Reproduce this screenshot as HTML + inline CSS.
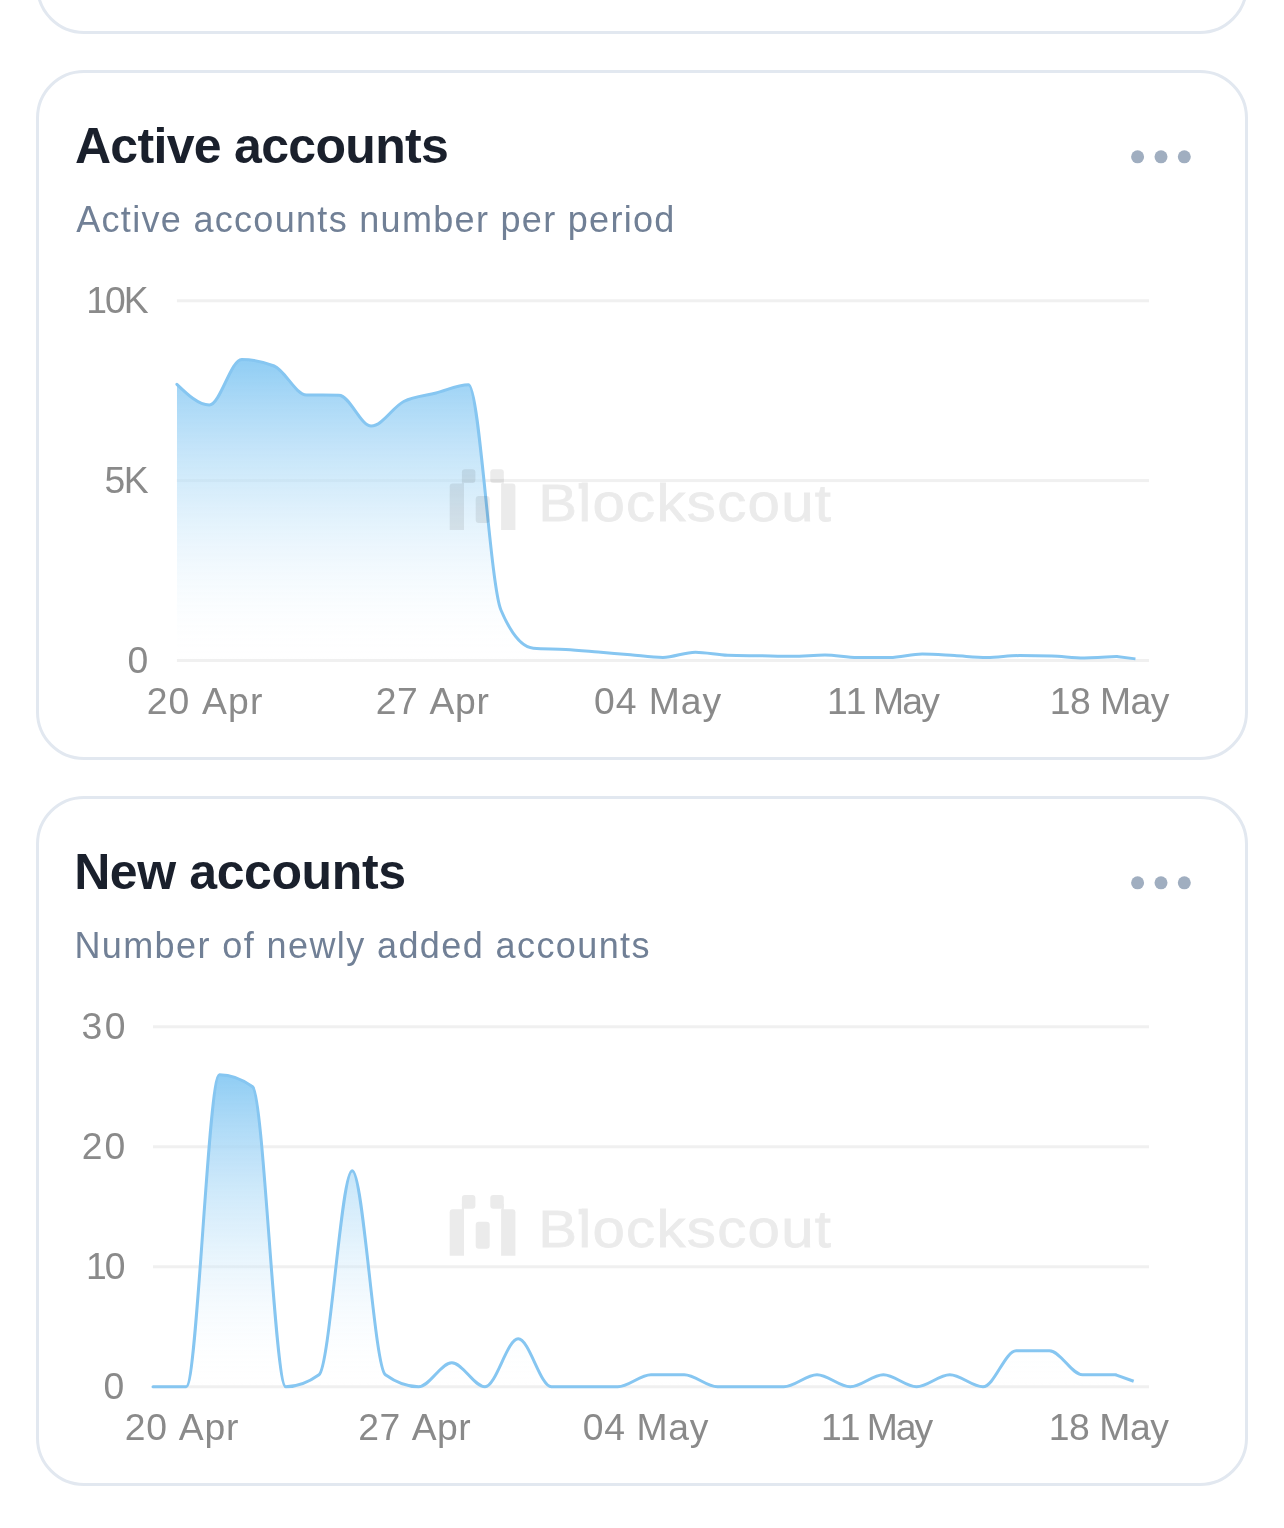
<!DOCTYPE html>
<html><head><meta charset="utf-8"><title>Charts</title>
<style>
html,body{margin:0;padding:0;background:#FFFFFF;}
body{width:1284px;height:1528px;position:relative;overflow:hidden;font-family:"Liberation Sans", sans-serif;}
.card{position:absolute;left:36px;width:1212px;height:690px;box-sizing:border-box;border:3px solid #E2E8F0;border-radius:48px;background:#FFFFFF;}
svg{position:absolute;left:0;top:0;will-change:transform;}
text{font-family:"Liberation Sans", sans-serif;font-kerning:none;font-feature-settings:"kern" 0;}
.title{font-weight:700;font-size:50px;fill:#1A202C;}
.sub{font-size:36px;fill:#718096;}
.ax{font-size:37.3px;fill:#8A8A8A;}
.wm{font-weight:400;font-size:52px;}
</style></head>
<body>
<div class="card" style="top:-656px"></div><div class="card" style="top:70px"></div><div class="card" style="top:796px"></div>
<svg width="1284" height="1528" viewBox="0 0 1284 1528">
<text x="74.95" y="162.60" class="title" style="letter-spacing:-0.689px">Active accounts</text><text x="76.20" y="231.80" class="sub" style="letter-spacing:1.309px">Active accounts number per period</text><circle cx="1137.6" cy="156.8" r="6.5" fill="#A0AEC0"/><circle cx="1161.0" cy="156.8" r="6.5" fill="#A0AEC0"/><circle cx="1184.3" cy="156.8" r="6.5" fill="#A0AEC0"/><rect x="176.9" y="299.3" width="972.1" height="3" fill="#F0F0F0"/><rect x="176.9" y="479.1" width="972.1" height="3" fill="#F0F0F0"/><rect x="176.9" y="659.0" width="972.1" height="3" fill="#F0F0F0"/><text x="86.15" y="312.80" class="ax" style="letter-spacing:-1.950px">10K</text><text x="104.50" y="492.60" class="ax" style="letter-spacing:-1.500px">5K</text><text x="127.40" y="672.50" class="ax" style="letter-spacing:0.000px">0</text><text x="146.65" y="713.50" class="ax" style="letter-spacing:1.170px">20 Apr</text><text x="375.65" y="713.50" class="ax" style="letter-spacing:0.670px">27 Apr</text><text x="594.10" y="713.50" class="ax" style="letter-spacing:0.940px">04 May</text><text x="826.95" y="713.50" class="ax" style="letter-spacing:-1.890px">11 May</text><text x="1049.65" y="713.50" class="ax" style="letter-spacing:-0.490px">18 May</text><defs><linearGradient id="g1" x1="0" y1="359.5" x2="0" y2="660.5" gradientUnits="userSpaceOnUse"><stop offset="0.00" stop-color="rgb(144,205,244)" stop-opacity="1.0000"/><stop offset="0.05" stop-color="rgb(148,207,244)" stop-opacity="0.9500"/><stop offset="0.10" stop-color="rgb(153,209,245)" stop-opacity="0.9000"/><stop offset="0.15" stop-color="rgb(158,211,245)" stop-opacity="0.8500"/><stop offset="0.20" stop-color="rgb(162,213,246)" stop-opacity="0.8000"/><stop offset="0.25" stop-color="rgb(167,215,246)" stop-opacity="0.7500"/><stop offset="0.30" stop-color="rgb(172,217,247)" stop-opacity="0.7000"/><stop offset="0.35" stop-color="rgb(176,220,247)" stop-opacity="0.6500"/><stop offset="0.40" stop-color="rgb(181,222,248)" stop-opacity="0.6000"/><stop offset="0.45" stop-color="rgb(186,224,248)" stop-opacity="0.5500"/><stop offset="0.50" stop-color="rgb(191,226,249)" stop-opacity="0.5000"/><stop offset="0.55" stop-color="rgb(196,229,249)" stop-opacity="0.4500"/><stop offset="0.60" stop-color="rgb(202,231,250)" stop-opacity="0.4000"/><stop offset="0.65" stop-color="rgb(207,233,250)" stop-opacity="0.3500"/><stop offset="0.70" stop-color="rgb(213,236,251)" stop-opacity="0.3000"/><stop offset="0.75" stop-color="rgb(218,239,251)" stop-opacity="0.2500"/><stop offset="0.80" stop-color="rgb(224,241,252)" stop-opacity="0.2000"/><stop offset="0.85" stop-color="rgb(231,244,253)" stop-opacity="0.1500"/><stop offset="0.90" stop-color="rgb(237,247,253)" stop-opacity="0.1000"/><stop offset="0.95" stop-color="rgb(245,250,254)" stop-opacity="0.0500"/><stop offset="1.00" stop-color="rgb(255,255,255)" stop-opacity="0.0001"/></linearGradient><clipPath id="c1"><rect x="176.9" y="0" width="958.6" height="1528"/></clipPath></defs><g clip-path="url(#c1)"><path d="M176.90,384.30C187.70,394.65,198.50,405.00,209.30,405.00C220.10,405.00,230.91,359.50,241.71,359.50C252.51,359.50,263.31,361.67,274.11,366.00C284.91,370.33,295.71,394.87,306.51,395.00C317.31,395.13,328.12,395.07,338.92,395.20C349.72,395.33,360.52,426.00,371.32,426.00C382.12,426.00,392.92,407.00,403.72,401.50C414.52,396.00,425.33,395.80,436.13,393.00C446.93,390.20,457.73,384.70,468.53,384.70C479.33,384.70,490.13,584.53,500.93,610.00C511.73,635.47,522.54,647.40,533.34,648.20C544.14,649.00,554.94,648.77,565.74,649.40C576.54,650.03,587.34,651.10,598.14,652.00C608.94,652.90,619.75,653.90,630.55,654.80C641.35,655.70,652.15,657.40,662.95,657.40C673.75,657.40,684.55,652.20,695.35,652.20C706.15,652.20,716.96,654.97,727.76,655.30C738.56,655.63,749.36,655.63,760.16,655.80C770.96,655.97,781.76,656.30,792.56,656.30C803.36,656.30,814.17,655.10,824.97,655.10C835.77,655.10,846.57,657.60,857.37,657.60C868.17,657.60,878.97,657.60,889.77,657.60C900.57,657.60,911.38,654.00,922.18,654.00C932.98,654.00,943.78,655.00,954.58,655.60C965.38,656.20,976.18,657.60,986.98,657.60C997.78,657.60,1008.59,655.60,1019.39,655.60C1030.19,655.60,1040.99,655.77,1051.79,656.10C1062.59,656.43,1073.39,658.00,1084.19,658.00C1094.99,658.00,1105.80,656.60,1116.60,656.60C1127.40,656.60,1138.20,658.55,1149.00,660.50L1149.00,660.50L176.90,660.50Z" fill="url(#g1)"/></g><path d="M176.90,384.30C187.70,394.65,198.50,405.00,209.30,405.00C220.10,405.00,230.91,359.50,241.71,359.50C252.51,359.50,263.31,361.67,274.11,366.00C284.91,370.33,295.71,394.87,306.51,395.00C317.31,395.13,328.12,395.07,338.92,395.20C349.72,395.33,360.52,426.00,371.32,426.00C382.12,426.00,392.92,407.00,403.72,401.50C414.52,396.00,425.33,395.80,436.13,393.00C446.93,390.20,457.73,384.70,468.53,384.70C479.33,384.70,490.13,584.53,500.93,610.00C511.73,635.47,522.54,647.40,533.34,648.20C544.14,649.00,554.94,648.77,565.74,649.40C576.54,650.03,587.34,651.10,598.14,652.00C608.94,652.90,619.75,653.90,630.55,654.80C641.35,655.70,652.15,657.40,662.95,657.40C673.75,657.40,684.55,652.20,695.35,652.20C706.15,652.20,716.96,654.97,727.76,655.30C738.56,655.63,749.36,655.63,760.16,655.80C770.96,655.97,781.76,656.30,792.56,656.30C803.36,656.30,814.17,655.10,824.97,655.10C835.77,655.10,846.57,657.60,857.37,657.60C868.17,657.60,878.97,657.60,889.77,657.60C900.57,657.60,911.38,654.00,922.18,654.00C932.98,654.00,943.78,655.00,954.58,655.60C965.38,656.20,976.18,657.60,986.98,657.60C997.78,657.60,1008.59,655.60,1019.39,655.60C1030.19,655.60,1040.99,655.77,1051.79,656.10C1062.59,656.43,1073.39,658.00,1084.19,658.00C1094.99,658.00,1105.80,657.30,1116.60,656.60" fill="none" stroke="#86C6F1" stroke-width="3.0" stroke-linejoin="round" stroke-linecap="round"/><path d="M1116.60,656.60L1135.46,658.87" fill="none" stroke="#86C6F1" stroke-width="3.0" stroke-linecap="butt"/><g fill="#000" stroke="none" opacity="0.08"><path d="M449.7,486.6 q0,-3 3,-3 h11.3 v46.4 h-14.3 z"/><rect x="461.9" y="469.3" width="13.5" height="13.7" rx="3"/><rect x="461.9" y="478.3" width="2.1" height="6"/><rect x="475.7" y="496.1" width="14" height="26.9" rx="3.2"/><rect x="490.3" y="469.3" width="13.5" height="13.7" rx="3"/><rect x="501.7" y="478.3" width="2.1" height="6"/><path d="M515.4,486.6 q0,-3 -3,-3 h-11.3 v46.4 h14.3 z"/><text transform="translate(538.14,521.3) scale(1.12,1)" x="0" y="0" class="wm" stroke="#000" stroke-width="0.8" style="letter-spacing:1.125px">Blockscout</text><rect x="578.6" y="483.1" width="4" height="5.6"/></g><text x="74.15" y="888.60" class="title" style="letter-spacing:-0.400px">New accounts</text><text x="74.40" y="957.80" class="sub" style="letter-spacing:1.407px">Number of newly added accounts</text><circle cx="1137.6" cy="882.8" r="6.5" fill="#A0AEC0"/><circle cx="1161.0" cy="882.8" r="6.5" fill="#A0AEC0"/><circle cx="1184.3" cy="882.8" r="6.5" fill="#A0AEC0"/><rect x="153.0" y="1025.3" width="996.0" height="3" fill="#F0F0F0"/><rect x="153.0" y="1145.3" width="996.0" height="3" fill="#F0F0F0"/><rect x="153.0" y="1265.3" width="996.0" height="3" fill="#F0F0F0"/><rect x="153.0" y="1385.3" width="996.0" height="3" fill="#F0F0F0"/><text x="81.60" y="1038.80" class="ax" style="letter-spacing:2.300px">30</text><text x="81.85" y="1158.80" class="ax" style="letter-spacing:1.850px">20</text><text x="86.05" y="1278.80" class="ax" style="letter-spacing:-2.150px">10</text><text x="103.60" y="1398.80" class="ax" style="letter-spacing:0.000px">0</text><text x="124.65" y="1439.50" class="ax" style="letter-spacing:0.790px">20 Apr</text><text x="358.25" y="1439.50" class="ax" style="letter-spacing:0.510px">27 Apr</text><text x="582.80" y="1439.50" class="ax" style="letter-spacing:0.640px">04 May</text><text x="821.05" y="1439.50" class="ax" style="letter-spacing:-2.030px">11 May</text><text x="1048.85" y="1439.50" class="ax" style="letter-spacing:-0.470px">18 May</text><defs><linearGradient id="g2" x1="0" y1="1074.8" x2="0" y2="1386.8" gradientUnits="userSpaceOnUse"><stop offset="0.00" stop-color="rgb(144,205,244)" stop-opacity="1.0000"/><stop offset="0.05" stop-color="rgb(148,207,244)" stop-opacity="0.9500"/><stop offset="0.10" stop-color="rgb(153,209,245)" stop-opacity="0.9000"/><stop offset="0.15" stop-color="rgb(158,211,245)" stop-opacity="0.8500"/><stop offset="0.20" stop-color="rgb(162,213,246)" stop-opacity="0.8000"/><stop offset="0.25" stop-color="rgb(167,215,246)" stop-opacity="0.7500"/><stop offset="0.30" stop-color="rgb(172,217,247)" stop-opacity="0.7000"/><stop offset="0.35" stop-color="rgb(176,220,247)" stop-opacity="0.6500"/><stop offset="0.40" stop-color="rgb(181,222,248)" stop-opacity="0.6000"/><stop offset="0.45" stop-color="rgb(186,224,248)" stop-opacity="0.5500"/><stop offset="0.50" stop-color="rgb(191,226,249)" stop-opacity="0.5000"/><stop offset="0.55" stop-color="rgb(196,229,249)" stop-opacity="0.4500"/><stop offset="0.60" stop-color="rgb(202,231,250)" stop-opacity="0.4000"/><stop offset="0.65" stop-color="rgb(207,233,250)" stop-opacity="0.3500"/><stop offset="0.70" stop-color="rgb(213,236,251)" stop-opacity="0.3000"/><stop offset="0.75" stop-color="rgb(218,239,251)" stop-opacity="0.2500"/><stop offset="0.80" stop-color="rgb(224,241,252)" stop-opacity="0.2000"/><stop offset="0.85" stop-color="rgb(231,244,253)" stop-opacity="0.1500"/><stop offset="0.90" stop-color="rgb(237,247,253)" stop-opacity="0.1000"/><stop offset="0.95" stop-color="rgb(245,250,254)" stop-opacity="0.0500"/><stop offset="1.00" stop-color="rgb(255,255,255)" stop-opacity="0.0001"/></linearGradient><clipPath id="c2"><rect x="153.0" y="0" width="982.5" height="1528"/></clipPath></defs><g clip-path="url(#c2)"><path d="M153.00,1386.80C164.07,1386.80,175.13,1386.80,186.20,1386.80C197.27,1386.80,208.33,1074.80,219.40,1074.80C230.47,1074.80,241.53,1078.80,252.60,1086.80C263.67,1094.80,274.73,1386.80,285.80,1386.80C296.87,1386.80,307.93,1382.80,319.00,1374.80C330.07,1366.80,341.13,1170.80,352.20,1170.80C363.27,1170.80,374.33,1366.80,385.40,1374.80C396.47,1382.80,407.53,1386.80,418.60,1386.80C429.67,1386.80,440.73,1362.80,451.80,1362.80C462.87,1362.80,473.93,1386.80,485.00,1386.80C496.07,1386.80,507.13,1338.80,518.20,1338.80C529.27,1338.80,540.33,1386.80,551.40,1386.80C562.47,1386.80,573.53,1386.80,584.60,1386.80C595.67,1386.80,606.73,1386.80,617.80,1386.80C628.87,1386.80,639.93,1374.80,651.00,1374.80C662.07,1374.80,673.13,1374.80,684.20,1374.80C695.27,1374.80,706.33,1386.80,717.40,1386.80C728.47,1386.80,739.53,1386.80,750.60,1386.80C761.67,1386.80,772.73,1386.80,783.80,1386.80C794.87,1386.80,805.93,1374.80,817.00,1374.80C828.07,1374.80,839.13,1386.80,850.20,1386.80C861.27,1386.80,872.33,1374.80,883.40,1374.80C894.47,1374.80,905.53,1386.80,916.60,1386.80C927.67,1386.80,938.73,1374.80,949.80,1374.80C960.87,1374.80,971.93,1386.80,983.00,1386.80C994.07,1386.80,1005.13,1350.80,1016.20,1350.80C1027.27,1350.80,1038.33,1350.80,1049.40,1350.80C1060.47,1350.80,1071.53,1374.80,1082.60,1374.80C1093.67,1374.80,1104.73,1374.80,1115.80,1374.80C1126.87,1374.80,1137.93,1380.80,1149.00,1386.80L1149.00,1386.80L153.00,1386.80Z" fill="url(#g2)"/></g><path d="M153.00,1386.80C164.07,1386.80,175.13,1386.80,186.20,1386.80C197.27,1386.80,208.33,1074.80,219.40,1074.80C230.47,1074.80,241.53,1078.80,252.60,1086.80C263.67,1094.80,274.73,1386.80,285.80,1386.80C296.87,1386.80,307.93,1382.80,319.00,1374.80C330.07,1366.80,341.13,1170.80,352.20,1170.80C363.27,1170.80,374.33,1366.80,385.40,1374.80C396.47,1382.80,407.53,1386.80,418.60,1386.80C429.67,1386.80,440.73,1362.80,451.80,1362.80C462.87,1362.80,473.93,1386.80,485.00,1386.80C496.07,1386.80,507.13,1338.80,518.20,1338.80C529.27,1338.80,540.33,1386.80,551.40,1386.80C562.47,1386.80,573.53,1386.80,584.60,1386.80C595.67,1386.80,606.73,1386.80,617.80,1386.80C628.87,1386.80,639.93,1374.80,651.00,1374.80C662.07,1374.80,673.13,1374.80,684.20,1374.80C695.27,1374.80,706.33,1386.80,717.40,1386.80C728.47,1386.80,739.53,1386.80,750.60,1386.80C761.67,1386.80,772.73,1386.80,783.80,1386.80C794.87,1386.80,805.93,1374.80,817.00,1374.80C828.07,1374.80,839.13,1386.80,850.20,1386.80C861.27,1386.80,872.33,1374.80,883.40,1374.80C894.47,1374.80,905.53,1386.80,916.60,1386.80C927.67,1386.80,938.73,1374.80,949.80,1374.80C960.87,1374.80,971.93,1386.80,983.00,1386.80C994.07,1386.80,1005.13,1350.80,1016.20,1350.80C1027.27,1350.80,1038.33,1350.80,1049.40,1350.80C1060.47,1350.80,1071.53,1374.80,1082.60,1374.80C1093.67,1374.80,1104.73,1374.80,1115.80,1374.80" fill="none" stroke="#86C6F1" stroke-width="3.0" stroke-linejoin="round" stroke-linecap="round"/><path d="M1115.80,1374.80L1133.67,1381.26" fill="none" stroke="#86C6F1" stroke-width="3.0" stroke-linecap="butt"/><g fill="#000" stroke="none" opacity="0.08"><path d="M449.7,1212.3 q0,-3 3,-3 h11.3 v46.4 h-14.3 z"/><rect x="461.9" y="1195.0" width="13.5" height="13.7" rx="3"/><rect x="461.9" y="1204.0" width="2.1" height="6"/><rect x="475.7" y="1221.8" width="14" height="26.9" rx="3.2"/><rect x="490.3" y="1195.0" width="13.5" height="13.7" rx="3"/><rect x="501.7" y="1204.0" width="2.1" height="6"/><path d="M515.4,1212.3 q0,-3 -3,-3 h-11.3 v46.4 h14.3 z"/><text transform="translate(538.14,1247.0) scale(1.12,1)" x="0" y="0" class="wm" stroke="#000" stroke-width="0.8" style="letter-spacing:1.125px">Blockscout</text><rect x="578.6" y="1208.8" width="4" height="5.6"/></g>
</svg>
</body></html>
